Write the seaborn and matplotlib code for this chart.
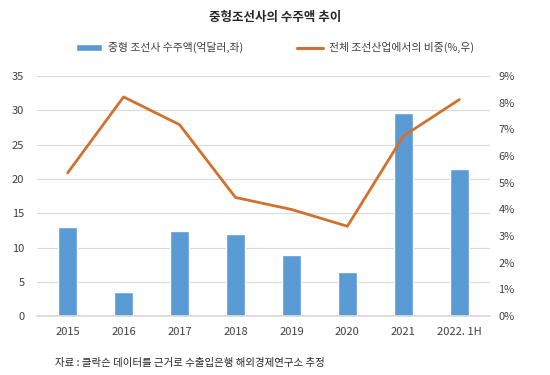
import matplotlib
matplotlib.use("Agg")
import matplotlib.pyplot as plt
import seaborn as sns
import pandas as pd
from matplotlib.ticker import FuncFormatter, MultipleLocator
from matplotlib.patches import Patch
from matplotlib.lines import Line2D

categories = ["2015", "2016", "2017", "2018", "2019", "2020", "2021", "2022. 1H"]
orders = [13.0, 3.5, 12.4, 12.0, 8.9, 6.5, 29.6, 21.5]
share = [5.37, 8.22, 7.18, 4.45, 4.0, 3.37, 6.75, 8.12]

sns.set_theme(style="white")
plt.rcParams['font.family'] = ['Noto Sans CJK KR', 'DejaVu Sans']

df = pd.DataFrame({"year": categories, "orders": orders, "share": share})

fig = plt.figure(figsize=(5.5, 3.75), dpi=100)
ax = fig.add_axes([0.067, 0.157, 0.824, 0.64])
bar_color = "#5B9BD5"
line_color = "#D2712F"
sns.barplot(data=df, x="year", y="orders", color=bar_color, width=0.33, ax=ax, saturation=1)
ax.set_ylim(0, 35)
ax.yaxis.set_major_locator(MultipleLocator(5))
ax.grid(axis="y", color="#D9D9D9", linewidth=0.8)
ax.set_axisbelow(True)
for s in ["top", "right", "left"]:
    ax.spines[s].set_visible(False)
ax.spines["bottom"].set_color("#D9D9D9")
ax.set_xlabel("")
ax.set_ylabel("")
ax.tick_params(axis="both", length=0, labelsize=8, colors="#404040")
ax.tick_params(axis="y", pad=9)
ax.tick_params(axis="x", pad=8)
ax.set_xlim(-0.55, 7.55)

ax2 = ax.twinx()
sns.lineplot(x=list(range(len(categories))), y=share, color=line_color, linewidth=2, ax=ax2)
ax2.set_ylim(0, 9)
ax2.yaxis.set_major_locator(MultipleLocator(1))
ax2.yaxis.set_major_formatter(FuncFormatter(lambda v, p: f"{int(round(v))}%"))
for s in ["top", "right", "left", "bottom"]:
    ax2.spines[s].set_visible(False)
ax2.tick_params(axis="y", length=0, labelsize=8, colors="#404040", pad=6)
ax2.set_ylabel("")
ax2.grid(False)

fig.text(0.5, 0.952, "중형조선사의 수주액 추이", ha="center", va="center", fontsize=9, fontweight="bold", color="#262626")
handles = [Patch(facecolor=bar_color, label="중형 조선사 수주액(억달러,좌)"),
           Line2D([0], [0], color=line_color, linewidth=2.2, label="전체 조선산업에서의 비중(%,우)")]
fig.legend(handles=handles, loc="center", bbox_to_anchor=(0.5, 0.873), ncol=2, frameon=False,
           fontsize=7.8, handlelength=2.4, handleheight=0.55, handletextpad=0.6, columnspacing=4.9,
           labelcolor="#404040")
fig.text(0.1, 0.032, "자료 : 클락슨 데이터를 근거로 수출입은행 해외경제연구소 추정", ha="left", va="center", fontsize=7.5, color="#262626")
fig.savefig("out.png", dpi=100)
